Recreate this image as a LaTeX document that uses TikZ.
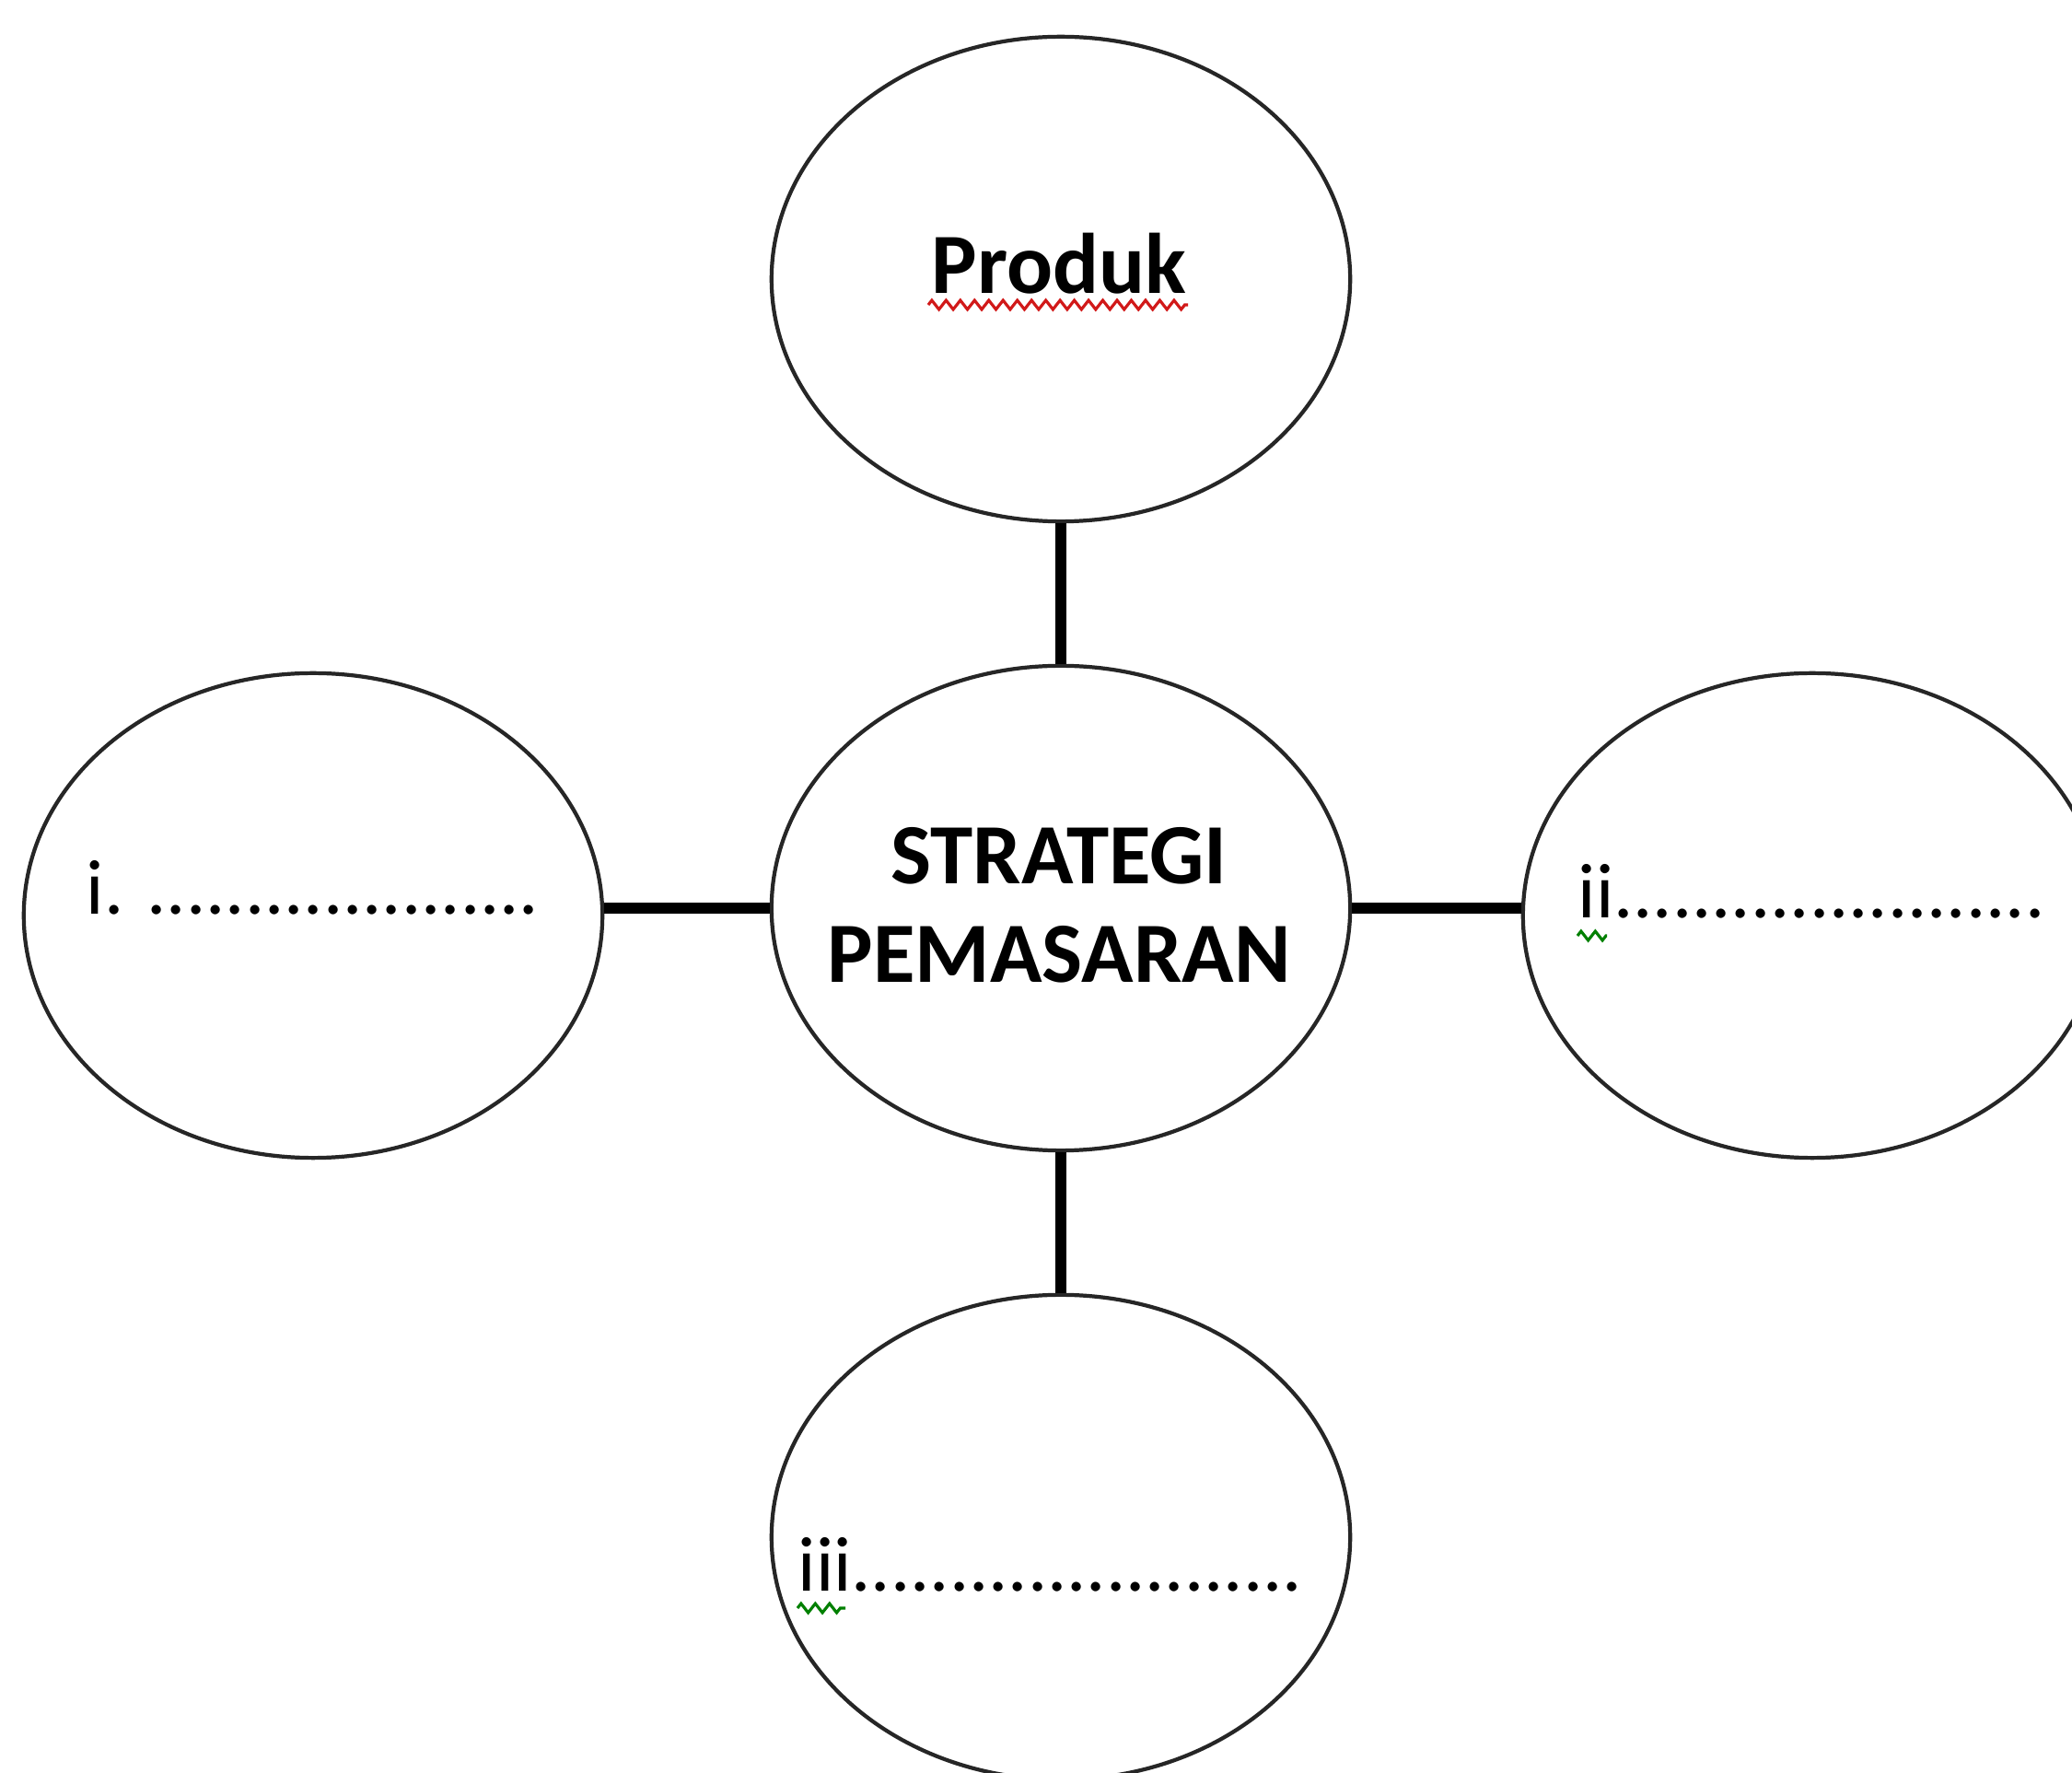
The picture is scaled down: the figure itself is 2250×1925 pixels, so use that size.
\documentclass[tikz,border=0pt]{standalone}
\usepackage{fontspec}
\setmainfont{Carlito}
\usetikzlibrary{shapes.geometric,decorations.pathmorphing}
\tikzset{
  bubble/.style={draw=black!85, line width=1.2pt, ellipse, inner sep=0pt,
    minimum width=6.28cm, minimum height=5.26cm},
  conn/.style={draw=black, line width=3.3pt},
  boldlabel/.style={anchor=base, inner sep=0pt, font=\fontsize{26.5}{32}\selectfont\bfseries},
  dotlabel/.style={anchor=base west, inner sep=0pt, font=\fontsize{24}{29}\selectfont},
  squiggle/.style={line width=0.9pt, decorate,
    decoration={zigzag, amplitude=1.4pt, segment length=4.4pt}}
}
\begin{document}
\begin{tikzpicture}[x=0.01cm, y=-0.01cm]
\useasboundingbox (0,0) rectangle (2250,1925);
\fill[white] (0,0) rectangle (2250,1925);

\node[bubble] (T) at (1152,303) {};
\node[bubble] (C) at (1152,986) {};
\node[bubble] (L) at (340,994) {};
\node[bubble] (R) at (1968,994) {};
\node[bubble] (B) at (1152,1669) {};

\draw[conn] (T.south) -- (C.north);
\draw[conn] (C.south) -- (B.north);
\draw[conn] (L.east |- C.west) -- (C.west);
\draw[conn] (C.east) -- (R.west |- C.east);

\node[boldlabel] (tprod) at (1150,319) {Produk};
\node[boldlabel] (tstrat) at (1150,960) {STRATEGI};
\node[boldlabel] (tpem) at (1150,1067) {PEMASARAN};

\node[dotlabel] (ti) at (93,993) {i. ....................};
\node[dotlabel] (tii) at (1713,997) {ii......................};
\node[dotlabel] (tiii) at (866,1728) {iii.......................};

\coordinate (sq1a) at (1008,331);
\coordinate (sq1b) at (1290,331);
\draw[squiggle, red!80!black!90] (sq1a) -- (sq1b);
\coordinate (sq2a) at (1713,1016);
\coordinate (sq2b) at (1745,1016);
\draw[squiggle, green!50!black] (sq2a) -- (sq2b);
\coordinate (sq3a) at (866,1746);
\coordinate (sq3b) at (918,1746);
\draw[squiggle, green!50!black] (sq3a) -- (sq3b);
\end{tikzpicture}
\end{document}
